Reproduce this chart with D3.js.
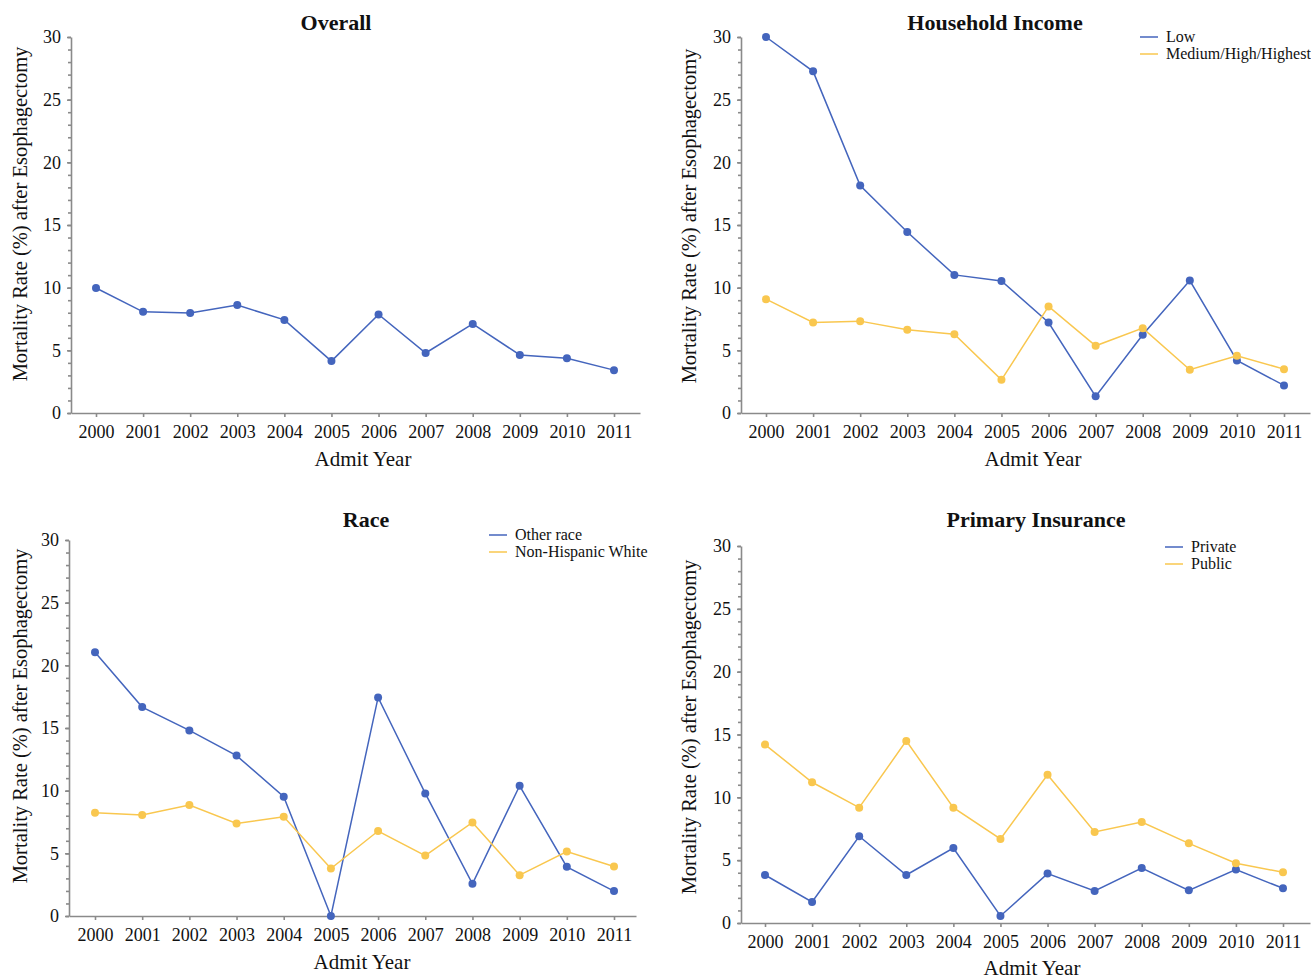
<!DOCTYPE html>
<html>
<head>
<meta charset="utf-8">
<script src="https://cdn.jsdelivr.net/npm/d3@7"></script>
<style>
  body { margin: 0; background: #fff; }
  svg text { font-family: "Liberation Serif", "Times New Roman", serif; fill: #111; }
</style>
</head>
<body>
<svg id="chart" width="1311" height="979"></svg>
<script>
const years = [2000, 2001, 2002, 2003, 2004, 2005, 2006, 2007, 2008, 2009, 2010, 2011];
const yTicks = [0, 5, 10, 15, 20, 25, 30];

const overall = [9.97, 8.07, 7.97, 8.61, 7.43, 4.14, 7.86, 4.79, 7.11, 4.63, 4.36, 3.42];

const incomeLow = [30.0, 27.26, 18.15, 14.44, 11.02, 10.54, 7.22, 1.33, 6.24, 10.57, 4.19, 2.2];
const incomeHigher = [9.08, 7.22, 7.33, 6.64, 6.29, 2.65, 8.5, 5.36, 6.77, 3.45, 4.57, 3.5];

const raceOther = [21.04, 16.67, 14.81, 12.8, 9.51, 0, 17.44, 9.78, 2.57, 10.39, 3.92, 1.99];
const raceWhite = [8.24, 8.06, 8.85, 7.39, 7.92, 3.79, 6.78, 4.82, 7.47, 3.26, 5.14, 3.95];

const insPrivate = [3.82, 1.67, 6.9, 3.82, 5.97, 0.56, 3.93, 2.55, 4.38, 2.6, 4.25, 2.76];
const insPublic = [14.2, 11.2, 9.18, 14.49, 9.18, 6.69, 11.79, 7.25, 8.04, 6.34, 4.75, 4.04];

const blue = '#4465bd';
const yellow = '#f9c74f';
const axisGray = '#8a8a8a';

// panel geometry (pixels), kept apart from the data
const panels = [
  { title: 'Overall', left: 71, right: 640, x2000: 96, x2011: 614, top: 37, bottom: 413,
    titleX: 336, titleY: 30, xlabX: 363, xlabY: 466, ylabX: 27, ylabY: 214,
    series: [{ name: null, values: overall, color: blue }] },
  { title: 'Household Income', left: 741, right: 1310, x2000: 766, x2011: 1284, top: 37, bottom: 413,
    titleX: 995, titleY: 30, xlabX: 1033, xlabY: 466, ylabX: 696, ylabY: 216,
    legendX: 1140, legendY: 37,
    series: [{ name: 'Low', values: incomeLow, color: blue },
             { name: 'Medium/High/Highest', values: incomeHigher, color: yellow }] },
  { title: 'Race', left: 69, right: 636, x2000: 95, x2011: 614, top: 540, bottom: 916,
    titleX: 366, titleY: 527, xlabX: 362, xlabY: 969, ylabX: 27, ylabY: 716,
    legendX: 489, legendY: 535,
    series: [{ name: 'Other race', values: raceOther, color: blue },
             { name: 'Non-Hispanic White', values: raceWhite, color: yellow }] },
  { title: 'Primary Insurance', left: 741, right: 1310, x2000: 765, x2011: 1283, top: 546, bottom: 923,
    titleX: 1036, titleY: 527, xlabX: 1032, xlabY: 975, ylabX: 696, ylabY: 727,
    legendX: 1165, legendY: 547,
    series: [{ name: 'Private', values: insPrivate, color: blue },
             { name: 'Public', values: insPublic, color: yellow }] }
];

const svg = d3.select('#chart');

function styleAxis(g) {
  g.attr('font-family', null).attr('font-size', null);
  g.select('.domain').attr('stroke', axisGray).attr('stroke-width', 1.6);
  g.selectAll('.tick line').attr('stroke', axisGray).attr('stroke-width', 1.6);
  g.selectAll('.tick text').attr('fill', '#111').style('font-size', '18px');
}

for (const p of panels) {
  const g = svg.append('g');
  const step = (p.x2011 - p.x2000) / 11;
  const x = d3.scaleLinear()
    .domain([2000 - (p.x2000 - p.left) / step, 2011 + (p.right - p.x2011) / step])
    .range([p.left, p.right]);
  const y = d3.scaleLinear().domain([0, 30]).range([p.bottom, p.top]);

  // minor y ticks
  g.append('g')
    .attr('transform', `translate(${p.left},0)`)
    .call(d3.axisLeft(y).tickValues(d3.range(0, 31, 1)).tickSize(3).tickFormat(''))
    .call(g => { g.select('.domain').remove(); g.selectAll('.tick line').attr('stroke', axisGray).attr('stroke-width', 1.6); });

  // y axis
  g.append('g')
    .attr('transform', `translate(${p.left},0)`)
    .call(d3.axisLeft(y).tickValues(yTicks).tickSize(4).tickSizeOuter(0).tickPadding(6))
    .call(styleAxis);

  // x axis
  g.append('g')
    .attr('transform', `translate(0,${p.bottom})`)
    .call(d3.axisBottom(x).tickValues(years).tickFormat(d3.format('d')).tickSize(4).tickSizeOuter(0).tickPadding(8))
    .call(styleAxis);

  g.append('text')
    .attr('x', p.titleX).attr('y', p.titleY)
    .attr('text-anchor', 'middle')
    .style('font-size', '22px').style('font-weight', 'bold')
    .text(p.title);

  g.append('text')
    .attr('x', p.xlabX).attr('y', p.xlabY)
    .attr('text-anchor', 'middle')
    .style('font-size', '21px')
    .text('Admit Year');

  g.append('text')
    .attr('transform', `translate(${p.ylabX},${p.ylabY}) rotate(-90)`)
    .attr('text-anchor', 'middle')
    .style('font-size', '20.5px')
    .text('Mortality Rate (%) after Esophagectomy');

  const line = d3.line().x((d, i) => x(years[i])).y(d => y(d));

  for (const s of p.series) {
    g.append('path')
      .datum(s.values)
      .attr('fill', 'none')
      .attr('stroke', s.color)
      .attr('stroke-width', 1.5)
      .attr('d', line);
    g.selectAll(null)
      .data(s.values)
      .enter().append('circle')
      .attr('cx', (d, i) => x(years[i]))
      .attr('cy', d => y(d))
      .attr('r', 4)
      .attr('fill', s.color);
  }

  // legend
  if (p.legendX !== undefined) {
    p.series.forEach((s, i) => {
      const ly = p.legendY + i * 17;
      g.append('line')
        .attr('x1', p.legendX).attr('x2', p.legendX + 18)
        .attr('y1', ly).attr('y2', ly)
        .attr('stroke', s.color).attr('stroke-width', 1.5);
      g.append('text')
        .attr('x', p.legendX + 26).attr('y', ly + 5)
        .style('font-size', '16px')
        .text(s.name);
    });
  }
}
</script>
</body>
</html>
